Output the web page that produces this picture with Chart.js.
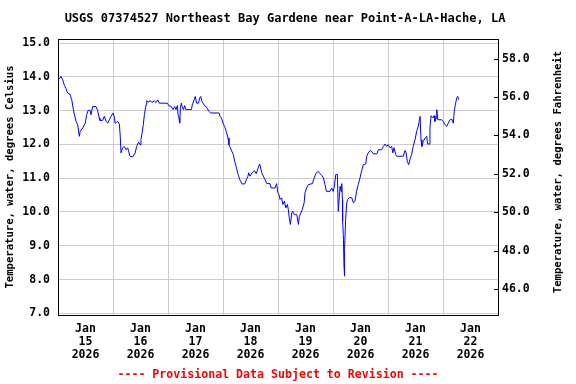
<!DOCTYPE html>
<html>
<head>
<meta charset="utf-8">
<script src="https://cdn.jsdelivr.net/npm/chart.js@4"></script>
<style>
  html, body { margin: 0; padding: 0; background: #fff; }
  canvas { display: block; }
</style>
</head>
<body>
<canvas id="chart" width="576" height="384"></canvas>
<script>
// hours after Jan 15 2026 00:00
var hours = [
  0.6, 1.3, 2.1, 2.8, 3.5, 4.2, 5.2, 6.0, 6.7, 7.1, 7.9, 8.6, 9.3, 9.7, 10.8, 11.9,
  12.5, 13.2, 14.0, 14.4, 15.1, 16.6, 17.3, 18.0, 18.3, 19.5, 20.2, 21.0, 21.7, 22.4,
  23.1, 24.1, 24.6, 24.9, 25.6, 26.1, 26.8, 27.2, 27.5, 28.2, 28.9, 29.7, 30.4, 30.9,
  31.4, 32.6, 33.7, 34.3, 35.2, 35.8, 36.2, 36.7, 37.2, 37.7, 38.4, 38.7, 39.6, 40.2,
  41.0, 42.0, 42.8, 43.5, 44.2, 47.7, 48.3, 49.4, 50.2, 50.9, 51.5, 52.1, 52.4, 52.8,
  53.1, 53.4, 53.8, 54.2, 54.7, 55.3, 55.7, 58.2, 58.6, 59.4, 59.9, 60.5, 61.3, 61.8,
  62.3, 62.8, 63.3, 64.0, 64.7, 65.2, 65.8, 66.6, 70.3, 70.7, 71.3, 72.0, 72.7, 73.4,
  74.2, 74.6, 75.2, 75.9, 76.5, 77.1, 77.7, 78.6, 79.3, 80.3, 81.5, 82.2, 82.9, 83.2,
  83.8, 84.7, 85.8, 86.5, 87.3, 88.0, 88.9, 89.6, 90.3, 91.1, 92.5, 93.0, 94.7, 95.4,
  95.9, 96.4, 96.9, 97.6, 98.1, 98.8, 99.4, 100.1, 100.5, 100.9, 101.4, 102.0, 102.4, 103.1,
  104.2, 104.9, 105.3, 106.0, 106.6, 107.4, 107.8, 108.5, 109.2, 111.0, 111.8, 112.5, 113.6, 114.3,
  115.1, 115.8, 116.5, 117.1, 118.7, 119.4, 120.1, 120.6, 121.2, 121.9, 122.3, 123.1, 123.5, 123.8,
  124.1, 124.2, 124.5, 124.8, 124.9, 125.2, 125.5, 126.0, 126.4, 127.0, 128.2, 128.9, 129.6, 130.3,
  131.0, 131.8, 132.5, 133.2, 134.3, 134.7, 135.4, 136.2, 136.9, 137.6, 139.1, 139.8, 141.2, 142.0,
  142.7, 143.4, 144.1, 144.9, 145.6, 146.1, 146.6, 147.4, 147.8, 150.7, 151.4, 151.9, 152.4, 153.0,
  153.6, 154.3, 155.0, 155.8, 156.5, 157.2, 158.0, 158.4, 158.8, 159.4, 160.2, 160.9, 161.3, 162.0,
  162.3, 162.8, 163.5, 164.1, 164.5, 165.0, 165.3, 165.7, 167.4, 168.1, 168.9, 169.6, 170.3, 171.1,
  171.8, 172.5, 172.9, 173.5, 174.0, 174.4, 174.9
];
var tempC = [
  13.94, 14.01, 13.91, 13.74, 13.65, 13.52, 13.49, 13.32, 13.03, 12.90, 12.68, 12.58, 12.24, 12.39, 12.49, 12.63,
  12.88, 13.01, 13.01, 12.88, 13.12, 13.12, 13.00, 12.78, 12.71, 12.71, 12.83, 12.68, 12.63, 12.73,
  12.83, 12.93, 12.80, 12.63, 12.66, 12.68, 12.60, 12.19, 11.75, 11.90, 11.94, 11.84, 11.90, 11.78,
  11.65, 11.63, 11.75, 11.94, 12.07, 11.99, 12.14, 12.34, 12.58, 12.88, 13.17, 13.29, 13.25, 13.30,
  13.24, 13.29, 13.24, 13.32, 13.22, 13.22, 13.15, 13.12, 13.03, 13.12, 13.03, 13.15, 12.88, 12.78,
  12.63, 13.08, 13.22, 13.12, 13.03, 13.15, 13.03, 13.03, 13.17, 13.32, 13.42, 13.22, 13.22, 13.37,
  13.42, 13.27, 13.22, 13.14, 13.12, 13.06, 12.98, 12.93, 12.93, 12.83, 12.78, 12.63, 12.53, 12.39,
  12.19, 11.99, 11.90, 11.79, 11.70, 11.50, 11.35, 11.11, 10.96, 10.83, 10.83, 10.96, 11.06, 11.16,
  11.06, 11.16, 11.22, 11.13, 11.30, 11.42, 11.16, 11.06, 10.96, 10.84, 10.84, 10.71, 10.71, 10.84,
  10.57, 10.52, 10.37, 10.42, 10.22, 10.32, 10.12, 10.22, 10.07, 9.83, 9.63, 9.97, 10.02, 9.92,
  9.92, 9.63, 9.87, 9.97, 10.07, 10.27, 10.57, 10.71, 10.81, 10.84, 11.01, 11.14, 11.20, 11.14,
  11.08, 11.01, 10.81, 10.61, 10.61, 10.71, 10.61, 10.76, 11.11, 11.11, 10.02, 10.76, 10.61, 10.84,
  10.37, 9.73, 9.33, 8.40, 8.10, 8.89, 9.78, 10.27, 10.37, 10.42, 10.42, 10.27, 10.32, 10.61,
  10.81, 11.01, 11.22, 11.40, 11.42, 11.65, 11.75, 11.82, 11.79, 11.72, 11.72, 11.84, 11.84, 11.94,
  12.01, 11.94, 11.99, 11.90, 11.94, 11.75, 11.90, 11.70, 11.65, 11.65, 11.82, 11.75, 11.50, 11.40,
  11.55, 11.70, 11.94, 12.14, 12.39, 12.53, 12.83, 12.14, 11.94, 12.09, 12.19, 12.24, 12.01, 12.01,
  12.49, 12.85, 12.78, 12.85, 12.68, 12.78, 13.03, 12.73, 12.73, 12.68, 12.58, 12.53, 12.63, 12.73,
  12.75, 12.63, 12.98, 13.22, 13.37, 13.42, 13.32
];

var dayLabels = ['15', '16', '17', '18', '19', '20', '21', '22'];
var celsiusTicks = [7, 8, 9, 10, 11, 12, 13, 14, 15];
var fahrenheitTicks = [46, 48, 50, 52, 54, 56, 58];

var titleText = 'USGS 07374527 Northeast Bay Gardene near Point-A-LA-Hache, LA';
var footerText = '---- Provisional Data Subject to Revision ----';
var rightTitle = 'Temperature, water, degrees Fahrenheit';

var mono = 'DejaVu Sans Mono';
var points = hours.map(function (h, i) { return { x: h, y: tempC[i] }; });

// border box, inside ticks on right axis, title, right axis title and footer
var frame = {
  id: 'frame',
  afterDraw: function (chart) {
    var ctx = chart.ctx, a = chart.chartArea;
    ctx.save();
    ctx.strokeStyle = '#000';
    ctx.lineWidth = 1;
    ctx.strokeRect(Math.round(a.left) + 0.5, Math.round(a.top) + 0.5,
      Math.round(a.right - a.left), Math.round(a.bottom - a.top));
    var r = chart.scales.yF;
    ctx.beginPath();
    r.ticks.forEach(function (t) {
      var y = Math.round(r.getPixelForValue(t.value)) + 0.5;
      ctx.moveTo(a.right - 4, y);
      ctx.lineTo(a.right, y);
    });
    ctx.stroke();

    ctx.textAlign = 'center';
    ctx.textBaseline = 'middle';
    ctx.fillStyle = '#000';
    ctx.font = 'bold 12px "' + mono + '"';
    ctx.fillText(titleText, 285, 19);

    ctx.save();
    ctx.translate(558, 172);
    ctx.rotate(-Math.PI / 2);
    ctx.font = 'bold 10.6px "' + mono + '"';
    ctx.fillText(rightTitle, 0, 0);
    ctx.restore();

    ctx.fillStyle = '#ff0000';
    ctx.font = 'bold 11.6px "' + mono + '"';
    ctx.fillText(footerText, 278, 375);
    ctx.restore();
  }
};

var ctx = document.getElementById('chart').getContext('2d');
new Chart(ctx, {
  type: 'line',
  data: {
    datasets: [{
      data: points,
      borderColor: '#0000ff',
      borderWidth: 1,
      pointRadius: 0,
      tension: 0,
      fill: false,
      yAxisID: 'y'
    }]
  },
  options: {
    responsive: false,
    animation: false,
    devicePixelRatio: 1,
    layout: { padding: { top: 39, left: 0, right: 0, bottom: 0 } },
    plugins: {
      legend: { display: false },
      tooltip: { enabled: false }
    },
    scales: {
      x: {
        type: 'linear',
        min: 0,
        max: 192,
        afterBuildTicks: function (scale) {
          var t = [];
          for (var v = 0; v <= 192; v += 12) t.push({ value: v });
          scale.ticks = t;
        },
        afterFit: function (scale) { scale.height = 69; },
        grid: {
          color: function (c) {
            return c.tick && c.tick.value % 24 === 0 ? '#cccccc' : 'rgba(0,0,0,0)';
          },
          drawTicks: false
        },
        border: { display: false },
        ticks: {
          autoSkip: false,
          maxRotation: 0,
          padding: 8,
          color: '#000',
          font: { family: mono, size: 11.5, weight: 'bold', lineHeight: 1.1 },
          callback: function (v) {
            if (v % 24 !== 12) return '';
            return ['Jan', dayLabels[(v - 12) / 24], '2026'];
          }
        }
      },
      y: {
        position: 'left',
        min: 6.95,
        max: 15.12,
        afterBuildTicks: function (scale) {
          scale.ticks = celsiusTicks.map(function (v) { return { value: v }; });
        },
        afterFit: function (scale) { scale.width = 58; },
        grid: { color: '#cccccc', drawTicks: false },
        border: { display: false },
        ticks: {
          padding: 8,
          color: '#000',
          font: { family: mono, size: 11.5, weight: 'bold' },
          callback: function (v) { return v.toFixed(1); }
        },
        title: {
          display: true,
          text: 'Temperature, water, degrees Celsius',
          color: '#000',
          padding: { top: 4, bottom: 0 },
          font: { family: mono, size: 10.6, weight: 'bold' }
        }
      },
      yF: {
        position: 'right',
        min: 44.66,
        max: 59.02,
        afterBuildTicks: function (scale) {
          scale.ticks = fahrenheitTicks.map(function (v) { return { value: v }; });
        },
        afterFit: function (scale) { scale.width = 78; },
        grid: { drawOnChartArea: false, drawTicks: false },
        border: { display: false },
        ticks: {
          padding: 4,
          color: '#000',
          font: { family: mono, size: 11.5, weight: 'bold' },
          callback: function (v) { return v.toFixed(1); }
        }
      }
    }
  },
  plugins: [frame]
});
</script>
</body>
</html>
